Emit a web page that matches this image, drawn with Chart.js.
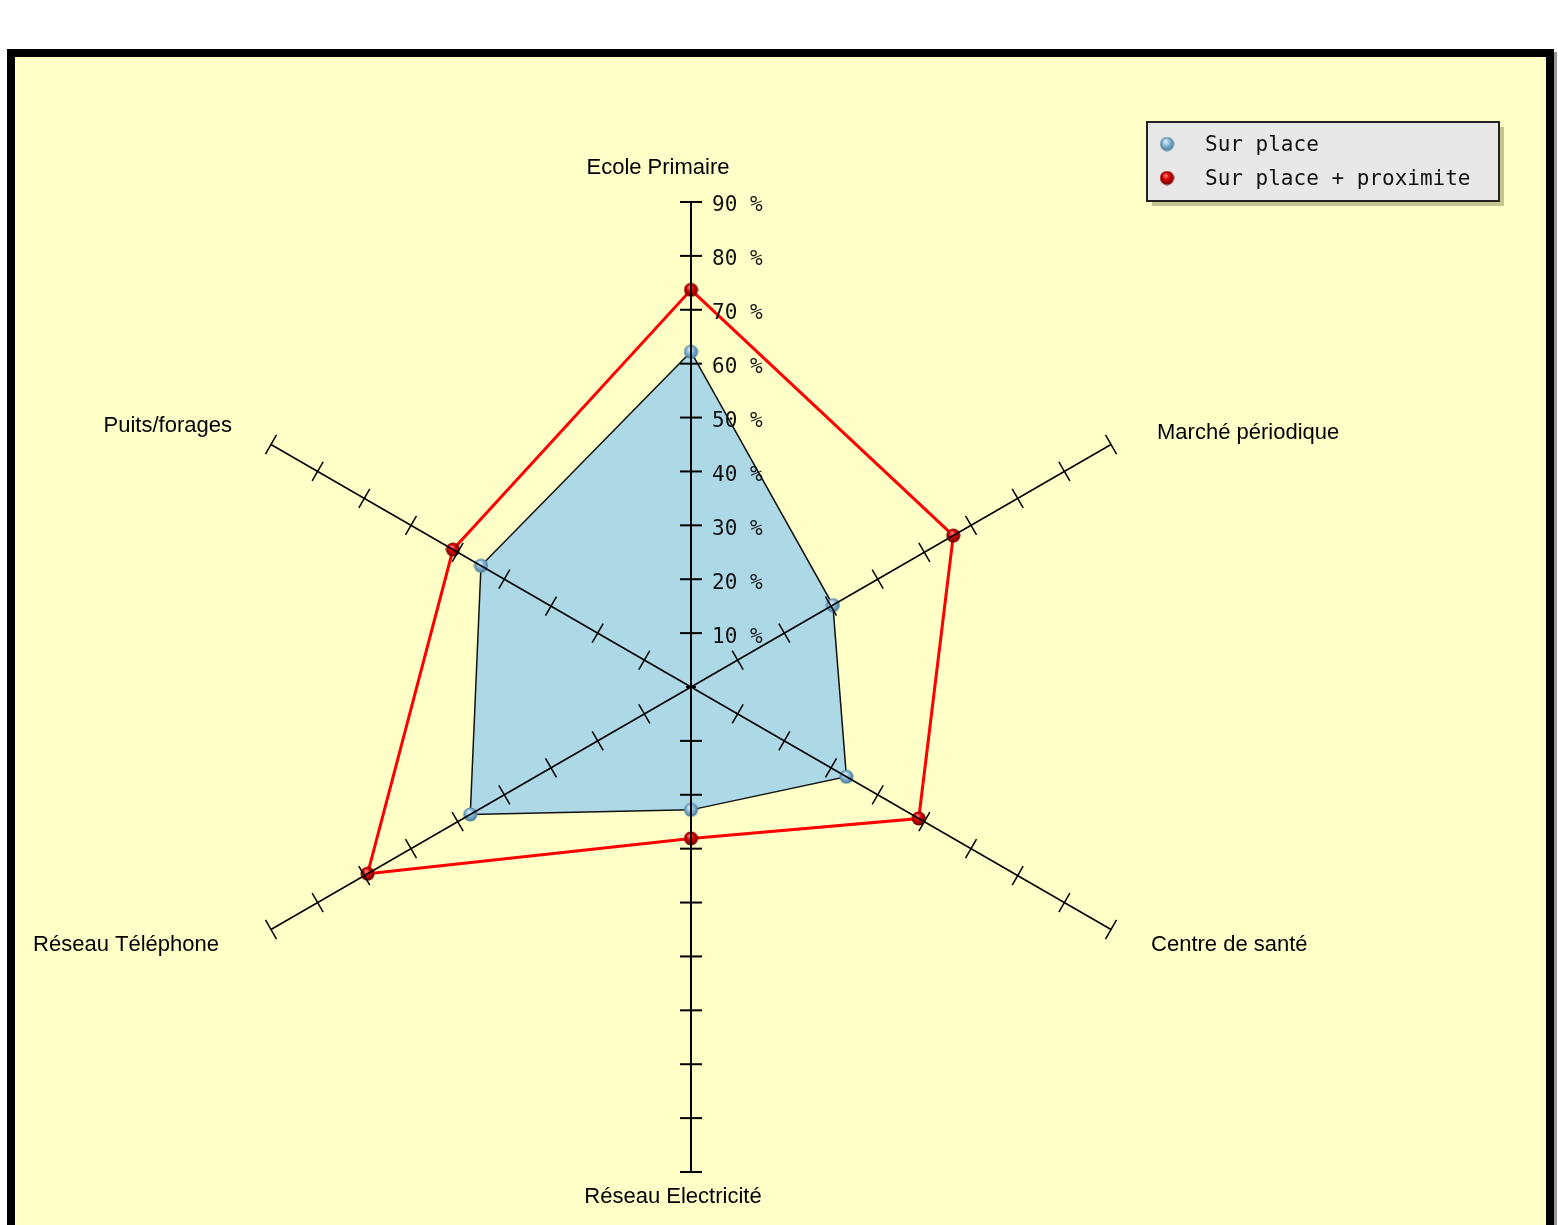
<!DOCTYPE html>
<html>
<head>
<meta charset="utf-8">
<title>Equipements</title>
<script src="https://cdn.jsdelivr.net/npm/chart.js@4/dist/chart.umd.min.js"></script>
<style>
    html, body { margin: 0; padding: 0; background: #ffffff; }
    canvas { display: block; }
</style>
</head>
<body>
<canvas id="radarChart" width="1558" height="1225"></canvas>
<script>
const categories = ['Ecole Primaire', 'Marché périodique', 'Centre de santé', 'Réseau Electricité', 'Réseau Téléphone', 'Puits/forages'];
const surPlace = [62.2, 30.4, 33.3, 22.8, 47.3, 45.0];
const surPlaceProximite = [73.7, 56.2, 48.8, 28.1, 69.3, 51.0];
const seriesLabels = ['Sur place', 'Sur place + proximite'];
const tickStep = 10;
const tickMax = 90;

// label placement around the axis ends: [dx, dy, align]
const labelOffsets = [
    [-33, -34, 'center'],
    [46, -12, 'left'],
    [40, 15, 'left'],
    [-18, 25, 'center'],
    [-52, 15, 'right'],
    [-39, -19, 'right']
];

// Little shaded balls used as markers
function makeSphere(size, hi, mid, lo) {
    const c = document.createElement('canvas');
    c.width = size;
    c.height = size;
    const g = c.getContext('2d');
    const r = size / 2;
    const grad = g.createRadialGradient(r * 0.8, r * 0.6, 0, r, r, r);
    grad.addColorStop(0, hi);
    grad.addColorStop(0.45, mid);
    grad.addColorStop(1, lo);
    g.fillStyle = grad;
    g.beginPath();
    g.arc(r, r, r - 0.5, 0, Math.PI * 2);
    g.fill();
    return c;
}

const blueBall = makeSphere(15, '#eef8ff', '#8cbcd9', '#3f7394');
const redBall = makeSphere(15, '#ff9a9a', '#dd0000', '#600000');

// Background and black frame
const framePlugin = {
    id: 'frame',
    beforeDraw(chart) {
        const ctx = chart.ctx;
        ctx.save();
        ctx.fillStyle = '#ffffff';
        ctx.fillRect(0, 0, chart.width, chart.height);
        ctx.fillStyle = '#9a9a9a';
        ctx.fillRect(10, 52, 1547, 1300);
        ctx.fillStyle = '#000000';
        ctx.fillRect(7, 49, 1547, 1300);
        ctx.fillStyle = '#ffffc8';
        ctx.fillRect(15, 57, 1531, 1300);
        ctx.restore();
    }
};

// Tick marks, tick labels, category labels and legend
const decorPlugin = {
    id: 'decor',
    afterDraw(chart) {
        const ctx = chart.ctx;
        const scale = chart.scales.r;
        const n = chart.data.labels.length;

        ctx.save();
        ctx.strokeStyle = '#000000';
        scale.ticks.forEach(tick => {
            const d = scale.getDistanceFromCenterForValue(tick.value);
            for (let i = 0; i < n; i++) {
                if (tick.value === 0 && i !== 0) continue;
                const p = scale.getPointPosition(i, d);
                const half = tick.value === 0 ? 5 : 11;
                const px = -Math.sin(p.angle) * half;
                const py = Math.cos(p.angle) * half;
                ctx.lineWidth = (i % 3 === 0) ? 2 : 1.5;
                ctx.beginPath();
                ctx.moveTo(p.x - px, p.y - py);
                ctx.lineTo(p.x + px, p.y + py);
                ctx.stroke();
            }
        });

        // tick labels on the top axis
        ctx.fillStyle = '#111111';
        ctx.font = '21px "DejaVu Sans Mono"';
        ctx.textAlign = 'left';
        ctx.textBaseline = 'middle';
        scale.ticks.forEach(tick => {
            if (tick.value === 0) return;
            const p = scale.getPointPosition(0, scale.getDistanceFromCenterForValue(tick.value));
            ctx.fillText(tick.label, p.x + 21, p.y + 4);
        });

        // category labels
        ctx.font = '22px "Liberation Sans"';
        ctx.fillStyle = '#000000';
        chart.data.labels.forEach((label, i) => {
            const p = scale.getPointPosition(i, scale.drawingArea);
            const [dx, dy, align] = labelOffsets[i];
            ctx.textAlign = align;
            ctx.fillText(label, p.x + dx, p.y + dy);
        });

        // legend box
        const box = { x: 1147, y: 122, w: 352, h: 79 };
        ctx.fillStyle = 'rgba(90, 90, 40, 0.35)';
        ctx.fillRect(box.x + 5, box.y + 5, box.w, box.h);
        ctx.fillStyle = '#e8e8e8';
        ctx.fillRect(box.x, box.y, box.w, box.h);
        ctx.strokeStyle = '#222222';
        ctx.lineWidth = 2;
        ctx.strokeRect(box.x, box.y, box.w, box.h);

        ctx.font = '21px "DejaVu Sans Mono"';
        ctx.textAlign = 'left';
        ctx.fillStyle = '#111111';
        chart.data.datasets.forEach((ds, i) => {
            const y = box.y + 22 + i * 34;
            const ball = ds.pointStyle;
            ctx.drawImage(ball, box.x + 20 - ball.width / 2, y - ball.height / 2);
            ctx.fillText(ds.label, box.x + 58, y + 2);
        });
        ctx.restore();
    }
};

new Chart(document.getElementById('radarChart'), {
    type: 'radar',
    data: {
        labels: categories,
        datasets: [{
            label: seriesLabels[0],
            data: surPlace,
            backgroundColor: '#add8e6',
            borderColor: '#111111',
            borderWidth: 1.5,
            fill: true,
            pointStyle: blueBall,
            pointRadius: 7,
            pointHoverRadius: 7
        }, {
            label: seriesLabels[1],
            data: surPlaceProximite,
            backgroundColor: 'rgba(0,0,0,0)',
            borderColor: '#ff0000',
            borderWidth: 3,
            fill: false,
            pointStyle: redBall,
            pointRadius: 7,
            pointHoverRadius: 7
        }]
    },
    options: {
        responsive: false,
        animation: false,
        events: [],
        layout: {
            padding: { left: 206, top: 202, right: 382, bottom: 53 }
        },
        scales: {
            r: {
                min: 0,
                max: tickMax,
                ticks: {
                    display: false,
                    z: 1,
                    stepSize: tickStep,
                    callback: value => value + ' %'
                },
                grid: { display: false, z: 1 },
                angleLines: {
                    display: true,
                    color: '#000000',
                    lineWidth: ctx => (ctx.index % 3 === 0 ? 2 : 1.5)
                },
                pointLabels: { display: false }
            }
        },
        plugins: {
            legend: { display: false },
            tooltip: { enabled: false }
        }
    },
    plugins: [framePlugin, decorPlugin]
});
</script>
</body>
</html>
